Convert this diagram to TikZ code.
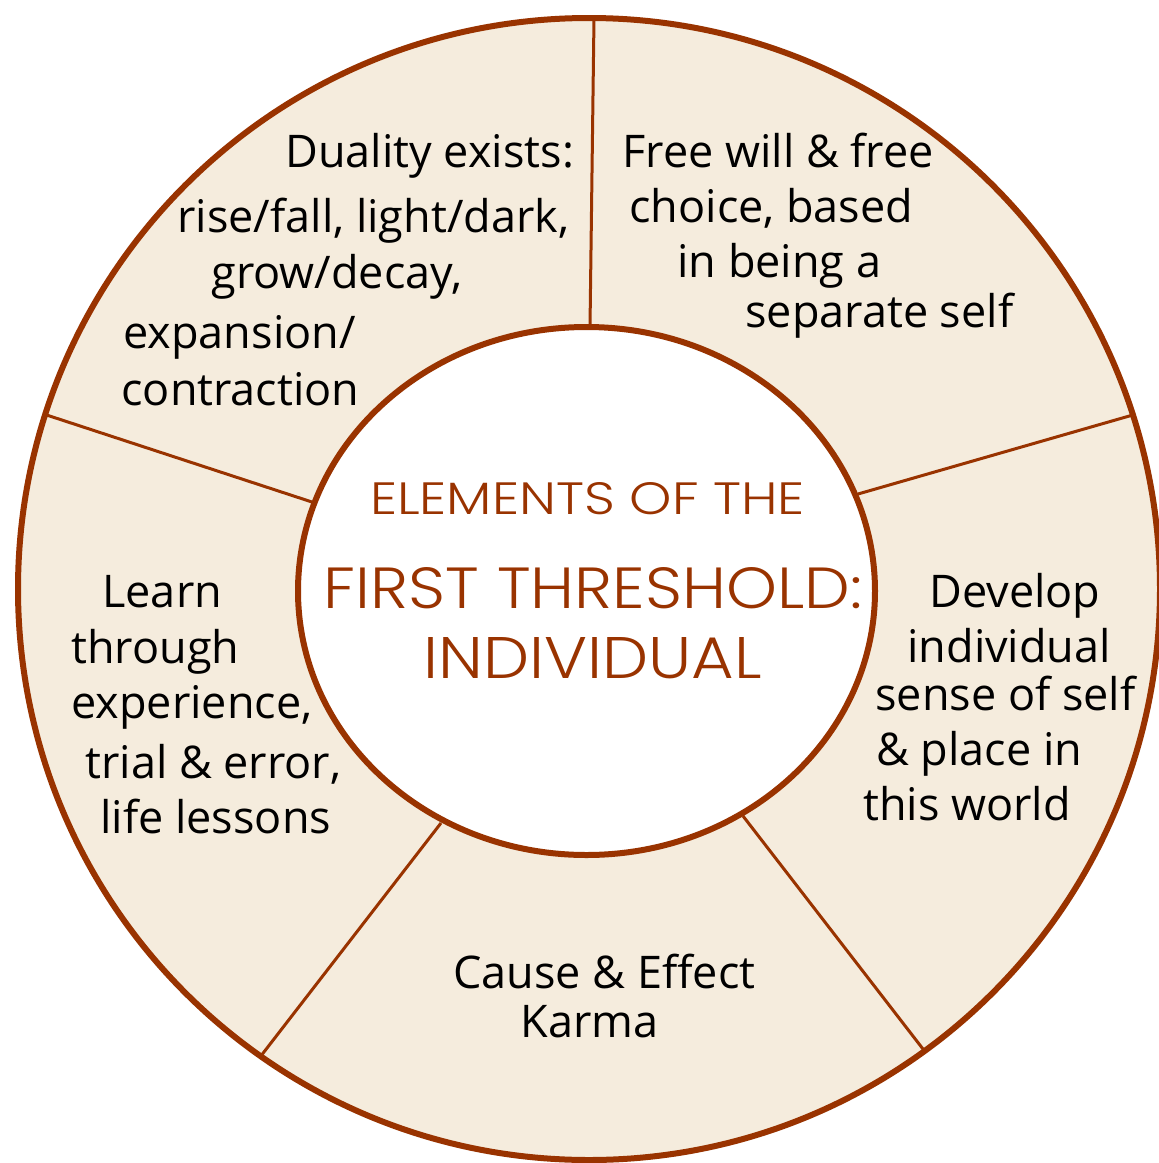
\documentclass[tikz,border=0pt]{standalone}
\usepackage{fontspec}
\setmainfont{Open Sans}
\newfontfamily\titlefont{Poppins}[UprightFont={* Light}]
\definecolor{brn}{RGB}{153,51,0}
\definecolor{bge}{RGB}{245,236,221}
\begin{document}
\begin{tikzpicture}[x=0.5pt,y=-0.5pt,
  body/.style={anchor=base west, inner sep=0pt, text=black, font=\fontsize{22.5}{27}\selectfont},
  ttl/.style={anchor=base, inner sep=0pt, text=brn, font=\titlefont\fontsize{28}{34}\selectfont},
  divider/.style={draw=brn, line width=1.5pt},
  ring/.style={draw=brn, line width=3pt}]
\useasboundingbox (0,0) rectangle (1158,1163);
% outer disc
\fill[bge] (589,589) circle[radius=571];
% dividers (clipped to the outer disc)
\coordinate (d1a) at (594.3,-5);  \coordinate (d1b) at (590,327);
\coordinate (d2a) at (1178,402);  \coordinate (d2b) at (858,494);
\coordinate (d3a) at (950,1084);  \coordinate (d3b) at (743,816);
\coordinate (d4a) at (240,1083);  \coordinate (d4b) at (441,823);
\coordinate (d5a) at (10,403);    \coordinate (d5b) at (312,502);
\begin{scope}
\clip (589,589) circle[radius=571];
\draw[divider] (d1a) -- (d1b);
\draw[divider] (d2a) -- (d2b);
\draw[divider] (d3a) -- (d3b);
\draw[divider] (d4a) -- (d4b);
\draw[divider] (d5a) -- (d5b);
\end{scope}
% inner ellipse and outer ring
\draw[ring, fill=white] (586.5,591) ellipse[x radius=288.5, y radius=264];
\draw[ring] (589,589) circle[radius=571];
% title
\node[ttl] (t1) at (587.5,514) {\resizebox{217.5pt}{16pt}{ELEMENTS OF THE}};
\node[ttl] (t2) at (593,608) {\resizebox{269pt}{20.5pt}{FIRST THRESHOLD:}};
\node[ttl] (t3) at (593,678) {\resizebox{169pt}{20.5pt}{INDIVIDUAL}};
% top-left
\node[body] (a1) at (285,167) {Duality exists:};
\node[body] (a2) at (177,232) {rise/fall, light/dark,};
\node[body] (a3) at (211,288) {grow/decay,};
\node[body] (a4) at (123,348) {expansion/};
\node[body] (a5) at (121,405) {contraction};
% top-right
\node[body] (b1) at (622,167) {Free will \& free};
\node[body] (b2) at (629,222) {choice, based};
\node[body] (b3) at (677,277) {in being a};
\node[body] (b4) at (745,327) {separate self};
% right
\node[body] (c1) at (929,607) {Develop};
\node[body] (c2) at (907,662) {individual};
\node[body] (c3) at (875,710) {sense of self};
\node[body] (c4) at (876,765) {\& place in};
\node[body] (c5) at (863,820) {this world};
% bottom
\node[body] (e1) at (453,988) {Cause \& Effect};
\node[body] (e2) at (520,1037) {Karma};
% left
\node[body] (f1) at (102,607) {Learn};
\node[body] (f2) at (71,663) {through};
\node[body] (f3) at (71,718) {experience,};
\node[body] (f4) at (85,778) {trial \& error,};
\node[body] (f5) at (100,833) {life lessons};
\end{tikzpicture}
\end{document}
